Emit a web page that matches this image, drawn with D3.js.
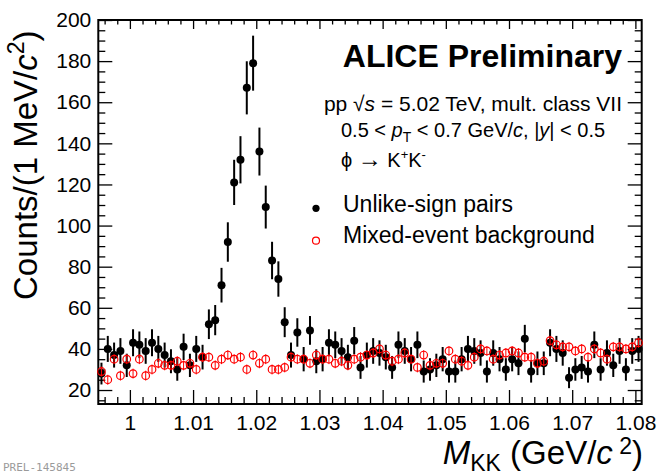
<!DOCTYPE html>
<html>
<head>
<meta charset="utf-8">
<script src="https://cdn.jsdelivr.net/npm/d3@7"></script>
<style>
  body { margin: 0; background: #fff; }
  svg { display: block; font-family: "Liberation Sans", Arial, sans-serif; }
</style>
</head>
<body>
<div class="chart"></div>
<script>
// bin centres of the 1 MeV/c^2 invariant-mass histogram (GeV/c^2)
const massBins = [
  0.9955, 0.9965, 0.9975, 0.9985, 0.9995, 1.0005, 1.0015, 1.0025, 1.0035, 1.0045,
  1.0055, 1.0065, 1.0075, 1.0085, 1.0095, 1.0105, 1.0115, 1.0125, 1.0135, 1.0145,
  1.0155, 1.0165, 1.0175, 1.0185, 1.0195, 1.0205, 1.0215, 1.0225, 1.0235, 1.0245,
  1.0255, 1.0265, 1.0275, 1.0285, 1.0295, 1.0305, 1.0315, 1.0325, 1.0335, 1.0345,
  1.0355, 1.0365, 1.0375, 1.0385, 1.0395, 1.0405, 1.0415, 1.0425, 1.0435, 1.0445,
  1.0455, 1.0465, 1.0475, 1.0485, 1.0495, 1.0505, 1.0515, 1.0525, 1.0535, 1.0545,
  1.0555, 1.0565, 1.0575, 1.0585, 1.0595, 1.0605, 1.0615, 1.0625, 1.0635, 1.0645,
  1.0655, 1.0665, 1.0675, 1.0685, 1.0695, 1.0705, 1.0715, 1.0725, 1.0735, 1.0745,
  1.0755, 1.0765, 1.0775, 1.0785, 1.0795, 1.0805
];

// unlike-sign K+K- pairs (counts per bin)
const unlikeSign = [
  28, 40, 37, 39, 32, 43, 42, 39, 43, 40,
  37, 34, 30, 41, 32, 40, 36, 52, 54, 71,
  92, 121, 132, 167, 179, 136, 109, 83, 74, 53,
  37, 48, 35, 49, 34, 35, 43, 42, 39, 36,
  44, 31, 37, 39, 38, 36, 31, 42, 39, 35,
  42, 29, 30, 32, 35, 29, 29, 35, 40, 39,
  38, 29, 38, 35, 30, 35, 33, 45, 29, 33,
  33, 43, 40, 38, 26, 30, 31, 29, 42, 30,
  38, 32, 39, 30, 39, 40
];

// normalised mixed-event background
const mixedEvent = [
  29, 25, 35, 27, 35, 28, 35, 27, 30, 33,
  32, 32, 34, 32, 33, 30, 36, 36, 32, 35,
  37, 35, 36, 30, 37, 33, 35, 30, 30, 31,
  36, 35, 35, 33, 37, 35, 35, 33, 34, 32,
  35, 36, 37, 38, 40, 37, 34, 35, 38, 35,
  31, 37, 32, 33, 33, 39, 35, 34, 32, 36,
  40, 39, 35, 37, 38, 39, 38, 36, 36, 33,
  34, 44, 42, 41, 41, 39, 40, 36, 40, 38,
  35, 41, 41, 40, 41, 43
];
const mixedEventError = 2.4;

const xTickValues = [1.00, 1.01, 1.02, 1.03, 1.04, 1.05, 1.06, 1.07, 1.08];
const xTickLabels = ["1", "1.01", "1.02", "1.03", "1.04", "1.05", "1.06", "1.07", "1.08"];
const yTickValues = [20, 40, 60, 80, 100, 120, 140, 160, 180, 200];

function getChartOptions() {
  var chart = {};
  chart.left = 98.3;
  chart.right = 641.7;
  chart.top = 20;
  chart.bottom = 404;
  chart.xScale = d3.scaleLinear().domain([0.995, 1.081]).range([chart.left, chart.right]);
  chart.yScale = d3.scaleLinear().domain([13.2, 200]).range([chart.bottom, chart.top]);
  chart.xMinor = d3.range(996, 1081, 2).map(v => v / 1000).filter(v => Math.round(v * 1000) % 10 !== 0);
  chart.yMinor = d3.range(15, 200, 5).filter(v => v % 20 !== 0);
  chart.signal = massBins.map((m, i) => ({ x: m, y: unlikeSign[i], err: Math.sqrt(unlikeSign[i]) }));
  chart.background = massBins.map((m, i) => ({ x: m, y: mixedEvent[i], err: mixedEventError }));
  return chart;
}

function drawChart(chart) {
  d3.select(".chart").selectAll("svg").remove();
  var svg = d3.select(".chart").append("svg")
    .attr("width", 660)
    .attr("height", 475);

  var x = chart.xScale, y = chart.yScale;

  function tickGroup(axis, tx, ty) {
    var g = svg.append("g").attr("transform", `translate(${tx},${ty})`).call(axis);
    g.select(".domain").remove();
    g.selectAll("line").attr("stroke", "#000").attr("stroke-width", 1.3);
    return g;
  }

  // bottom axis
  var xAxis = tickGroup(d3.axisBottom(x).tickValues(xTickValues)
      .tickFormat((d, i) => xTickLabels[i]).tickSize(-14).tickPadding(11), 0, chart.bottom);
  xAxis.selectAll("text").attr("font-size", 21).attr("fill", "#000")
    .attr("font-family", "Liberation Sans, Arial, sans-serif");
  tickGroup(d3.axisBottom(x).tickValues(chart.xMinor).tickFormat("").tickSize(-7), 0, chart.bottom);
  // top axis
  tickGroup(d3.axisTop(x).tickValues(xTickValues).tickFormat("").tickSize(-9), 0, chart.top);
  tickGroup(d3.axisTop(x).tickValues(chart.xMinor).tickFormat("").tickSize(-4.5), 0, chart.top);

  // left axis
  var yAxis = tickGroup(d3.axisLeft(y).tickValues(yTickValues).tickSize(-14).tickPadding(7), chart.left, 0);
  yAxis.selectAll("text").attr("font-size", 21).attr("fill", "#000")
    .attr("font-family", "Liberation Sans, Arial, sans-serif");
  tickGroup(d3.axisLeft(y).tickValues(chart.yMinor).tickFormat("").tickSize(-7), chart.left, 0);
  // right axis
  tickGroup(d3.axisRight(y).tickValues(yTickValues).tickFormat("").tickSize(-14), chart.right, 0);
  tickGroup(d3.axisRight(y).tickValues(chart.yMinor).tickFormat("").tickSize(-7), chart.right, 0);

  // frame
  svg.append("rect")
    .attr("x", chart.left).attr("y", chart.top)
    .attr("width", chart.right - chart.left).attr("height", chart.bottom - chart.top)
    .attr("fill", "none").attr("stroke", "#000").attr("stroke-width", 2);

  // unlike-sign pairs
  var sig = svg.append("g");
  sig.selectAll("line")
    .data(chart.signal)
    .enter().append("line")
    .attr("x1", d => x(d.x)).attr("x2", d => x(d.x))
    .attr("y1", d => y(d.y - d.err)).attr("y2", d => y(d.y + d.err))
    .attr("stroke", "#000").attr("stroke-width", 2);
  sig.selectAll("circle")
    .data(chart.signal)
    .enter().append("circle")
    .attr("cx", d => x(d.x)).attr("cy", d => y(d.y))
    .attr("r", 4).attr("fill", "#000");

  // mixed-event background
  var bkg = svg.append("g");
  bkg.selectAll("line")
    .data(chart.background)
    .enter().append("line")
    .attr("x1", d => x(d.x)).attr("x2", d => x(d.x))
    .attr("y1", d => y(d.y - d.err)).attr("y2", d => y(d.y + d.err))
    .attr("stroke", "#f00").attr("stroke-width", 1);
  bkg.selectAll("circle")
    .data(chart.background)
    .enter().append("circle")
    .attr("cx", d => x(d.x)).attr("cy", d => y(d.y))
    .attr("r", 3.8).attr("fill", "none")
    .attr("stroke", "#f00").attr("stroke-width", 1.2);

  // labels
  svg.append("text")
    .attr("x", 622).attr("y", 67)
    .attr("text-anchor", "end").attr("font-size", 32).attr("font-weight", "bold")
    .text("ALICE Preliminary");

  var l1 = svg.append("text")
    .attr("x", 622).attr("y", 111)
    .attr("text-anchor", "end").attr("font-size", 21);
  l1.append("tspan").text("pp  \u221A");
  l1.append("tspan").attr("font-style", "italic").text("s");
  l1.append("tspan").text(" = 5.02 TeV, mult. class VII");

  var l2 = svg.append("text")
    .attr("x", 341).attr("y", 137).attr("font-size", 20);
  l2.append("tspan").text("0.5 < ");
  l2.append("tspan").attr("font-style", "italic").text("p");
  l2.append("tspan").attr("font-size", 14).attr("dy", 5).text("T");
  l2.append("tspan").attr("dy", -5).text(" < 0.7 GeV/");
  l2.append("tspan").attr("font-style", "italic").text("c");
  l2.append("tspan").text(", |");
  l2.append("tspan").attr("font-style", "italic").text("y");
  l2.append("tspan").text("| < 0.5");

  var l3 = svg.append("text")
    .attr("x", 341).attr("y", 167).attr("font-size", 20);
  l3.append("tspan").text("\u03D5 ");
  l3.append("tspan").attr("font-size", 24).text("\u2192");
  l3.append("tspan").text(" K");
  l3.append("tspan").attr("font-size", 13).attr("dy", -8).text("+");
  l3.append("tspan").attr("dy", 8).text("K");
  l3.append("tspan").attr("font-size", 13).attr("dy", -8).text("-");

  // legend
  svg.append("circle").attr("cx", 316).attr("cy", 208.3).attr("r", 3.6).attr("fill", "#000");
  svg.append("text").attr("x", 343).attr("y", 212).attr("font-size", 23).text("Unlike-sign pairs");
  svg.append("circle").attr("cx", 316).attr("cy", 240.7).attr("r", 3.5)
    .attr("fill", "none").attr("stroke", "#f00").attr("stroke-width", 1.2);
  svg.append("text").attr("x", 343).attr("y", 243).attr("font-size", 23).text("Mixed-event background");

  // axis titles
  var yt = svg.append("text")
    .attr("transform", "translate(37,300) rotate(-90)")
    .attr("font-size", 33);
  yt.append("tspan").text("Counts/(1 MeV/");
  yt.append("tspan").attr("font-style", "italic").text("c");
  yt.append("tspan").attr("font-size", 23).attr("dy", -13).text("2");
  yt.append("tspan").attr("dy", 13).text(")");

  var xt = svg.append("text")
    .attr("x", 643).attr("y", 464)
    .attr("text-anchor", "end").attr("font-size", 33);
  xt.append("tspan").attr("font-style", "italic").text("M");
  xt.append("tspan").attr("font-size", 23).attr("dy", 7).text("KK");
  xt.append("tspan").attr("dy", -7).text("  (GeV/");
  xt.append("tspan").attr("font-style", "italic").text("c");
  xt.append("tspan").attr("font-size", 23).attr("dy", -10).text(" 2");
  xt.append("tspan").attr("dy", 10).text(")");

  // preliminary figure id
  svg.append("text")
    .attr("x", 3).attr("y", 471)
    .attr("font-family", "DejaVu Sans Mono, monospace")
    .attr("font-size", 11).attr("fill", "#9a9a9a")
    .text("PREL-145845");
}

drawChart(getChartOptions());
</script>
</body>
</html>
